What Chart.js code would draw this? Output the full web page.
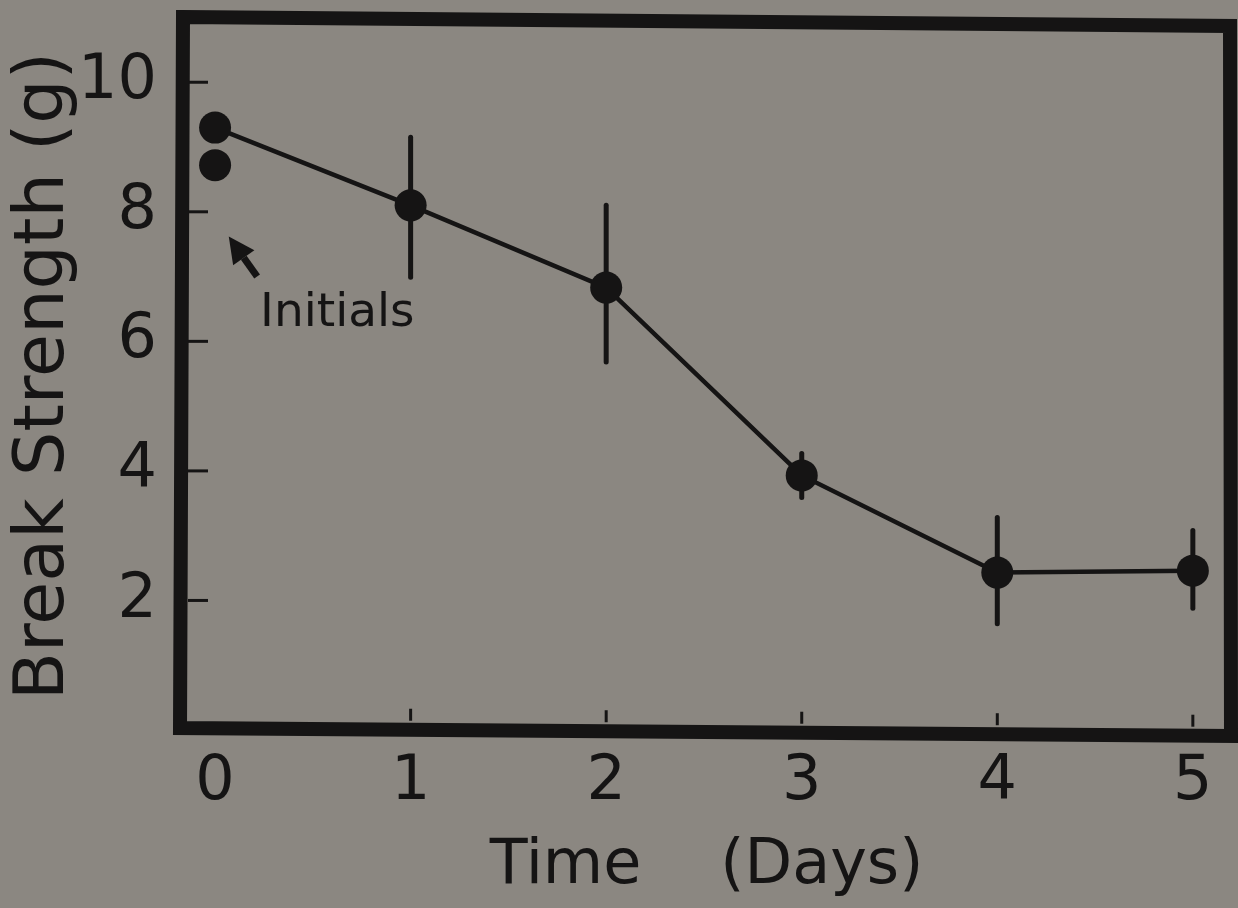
<!DOCTYPE html>
<html>
<head>
<meta charset="utf-8">
<title>Break Strength</title>
<script src="https://cdn.jsdelivr.net/npm/chart.js@4.4.1/dist/chart.umd.min.js"></script>
<style>
  html, body { margin: 0; padding: 0; background: #8b8781; }
  canvas { display: block; }
</style>
</head>
<body>
<canvas id="chart" width="1238" height="908"></canvas>
<script>
// values
const days = [0, 1, 2, 3, 4, 5];
const strength = [9.3, 8.1, 6.83, 3.93, 2.43, 2.46];
const errLow = [null, 6.99, 5.68, 3.59, 1.64, 1.88];
const errHigh = [null, 9.15, 8.1, 4.27, 3.28, 3.08];
const initialDays = [0];
const initialStrength = [8.72];
const yTicks = [2, 4, 6, 8, 10];
const xTicks = [0, 1, 2, 3, 4, 5];

// "Initials" note with its arrow, in data units
const noteText = 'Initials';
const notePos = [0.625, 6.43];
const arrowTail = [0.215, 7.0];
const arrowTip = [0.07, 7.62];

const ink = '#151414';
const fontFamily = '"DejaVu Sans", sans-serif';

// --- error bars under the points ---
const errorBars = {
  id: 'errorBars',
  beforeDatasetsDraw(chart) {
    const {ctx, scales: {x, y}} = chart;
    ctx.save();
    ctx.strokeStyle = ink;
    ctx.lineWidth = 5;
    ctx.lineCap = 'round';
    days.forEach((d, i) => {
      if (errLow[i] == null) return;
      const px = x.getPixelForValue(d);
      ctx.beginPath();
      ctx.moveTo(px, y.getPixelForValue(errLow[i]));
      ctx.lineTo(px, y.getPixelForValue(errHigh[i]));
      ctx.stroke();
    });
    ctx.restore();
  }
};

// --- arrow + label ---
const note = {
  id: 'note',
  afterDatasetsDraw(chart) {
    const {ctx, scales: {x, y}} = chart;
    const tx = x.getPixelForValue(arrowTail[0]), ty = y.getPixelForValue(arrowTail[1]);
    const hx = x.getPixelForValue(arrowTip[0]), hy = y.getPixelForValue(arrowTip[1]);
    const ang = Math.atan2(hy - ty, hx - tx);
    const headLen = 26, headHalf = 13;
    const bx = hx - Math.cos(ang) * headLen, by = hy - Math.sin(ang) * headLen;
    ctx.save();
    ctx.strokeStyle = ink;
    ctx.fillStyle = ink;
    ctx.lineWidth = 7;
    ctx.beginPath();
    ctx.moveTo(tx, ty);
    ctx.lineTo(bx, by);
    ctx.stroke();
    ctx.beginPath();
    ctx.moveTo(hx, hy);
    ctx.lineTo(bx + Math.sin(ang) * headHalf, by - Math.cos(ang) * headHalf);
    ctx.lineTo(bx - Math.sin(ang) * headHalf, by + Math.cos(ang) * headHalf);
    ctx.closePath();
    ctx.fill();

    ctx.font = '47px ' + fontFamily;
    ctx.textAlign = 'center';
    ctx.textBaseline = 'middle';
    ctx.fillText(noteText, x.getPixelForValue(notePos[0]), y.getPixelForValue(notePos[1]));
    ctx.restore();
  }
};

// --- heavy frame and inner tick marks ---
const frame = {
  id: 'frame',
  afterDraw(chart) {
    const {ctx, chartArea: a, scales: {x, y}} = chart;
    const w = a.right - a.left;
    const bottomAt = px => a.bottom - 2 + (px - a.left) / w * 8;
    ctx.save();
    ctx.strokeStyle = ink;
    ctx.lineWidth = 14;
    ctx.lineJoin = 'miter';
    ctx.beginPath();
    ctx.moveTo(a.left, a.top - 5);
    ctx.lineTo(a.right, a.top + 4);
    ctx.lineTo(a.right + 1, a.bottom + 6);
    ctx.lineTo(a.left - 3, a.bottom - 2);
    ctx.closePath();
    ctx.stroke();

    ctx.lineWidth = 3;
    yTicks.forEach(v => {
      const py = y.getPixelForValue(v);
      ctx.beginPath();
      ctx.moveTo(a.left + 5, py);
      ctx.lineTo(a.left + 25, py);
      ctx.stroke();
    });
    xTicks.slice(1).forEach(v => {
      const px = x.getPixelForValue(v);
      const by = bottomAt(px) - 9;
      ctx.beginPath();
      ctx.moveTo(px, by);
      ctx.lineTo(px, by - 12);
      ctx.stroke();
    });
    ctx.restore();
  }
};

new Chart(document.getElementById('chart'), {
  type: 'line',
  data: {
    datasets: [{
      data: days.map((d, i) => ({x: d, y: strength[i]})),
      borderColor: ink,
      borderWidth: 4.5,
      backgroundColor: ink,
      pointRadius: 16,
      pointBackgroundColor: ink,
      pointBorderWidth: 0,
      tension: 0,
      clip: false
    }, {
      data: initialDays.map((d, i) => ({x: d, y: initialStrength[i]})),
      showLine: false,
      backgroundColor: ink,
      pointRadius: 16,
      pointBackgroundColor: ink,
      pointBorderWidth: 0,
      clip: false
    }]
  },
  options: {
    responsive: false,
    animation: false,
    layout: { autoPadding: false, padding: { top: 22, right: 8, left: 0, bottom: 0 } },
    plugins: { legend: { display: false }, tooltip: { enabled: false } },
    scales: {
      x: {
        type: 'linear',
        min: -0.164,
        max: 5.19,
        afterBuildTicks: s => { s.ticks = xTicks.map(v => ({value: v})); },
        afterFit: s => { s.height = 178; s.paddingLeft = 0; s.paddingRight = 0; },
        grid: { display: false, drawTicks: false },
        border: { display: false },
        ticks: { color: ink, padding: 16, font: { family: fontFamily, size: 62, lineHeight: 1.2 } },
        title: {
          display: true,
          text: 'Time    (Days)',
          color: ink,
          padding: { top: 0, bottom: 4 },
          font: { family: fontFamily, size: 62, lineHeight: 1.2 }
        }
      },
      y: {
        type: 'linear',
        min: 0,
        max: 10.93,
        afterBuildTicks: s => { s.ticks = yTicks.map(v => ({value: v})); },
        afterFit: s => { s.width = 183; s.paddingTop = 0; s.paddingBottom = 0; },
        grid: { display: false, drawTicks: false },
        border: { display: false },
        ticks: { color: ink, padding: 26, font: { family: fontFamily, size: 62, lineHeight: 1.2 } },
        title: {
          display: true,
          text: 'Break Strength (g)',
          color: ink,
          padding: { top: 3, bottom: 0 },
          font: { family: fontFamily, size: 70, lineHeight: 1.2 }
        }
      }
    }
  },
  plugins: [errorBars, note, frame]
});
</script>
</body>
</html>
